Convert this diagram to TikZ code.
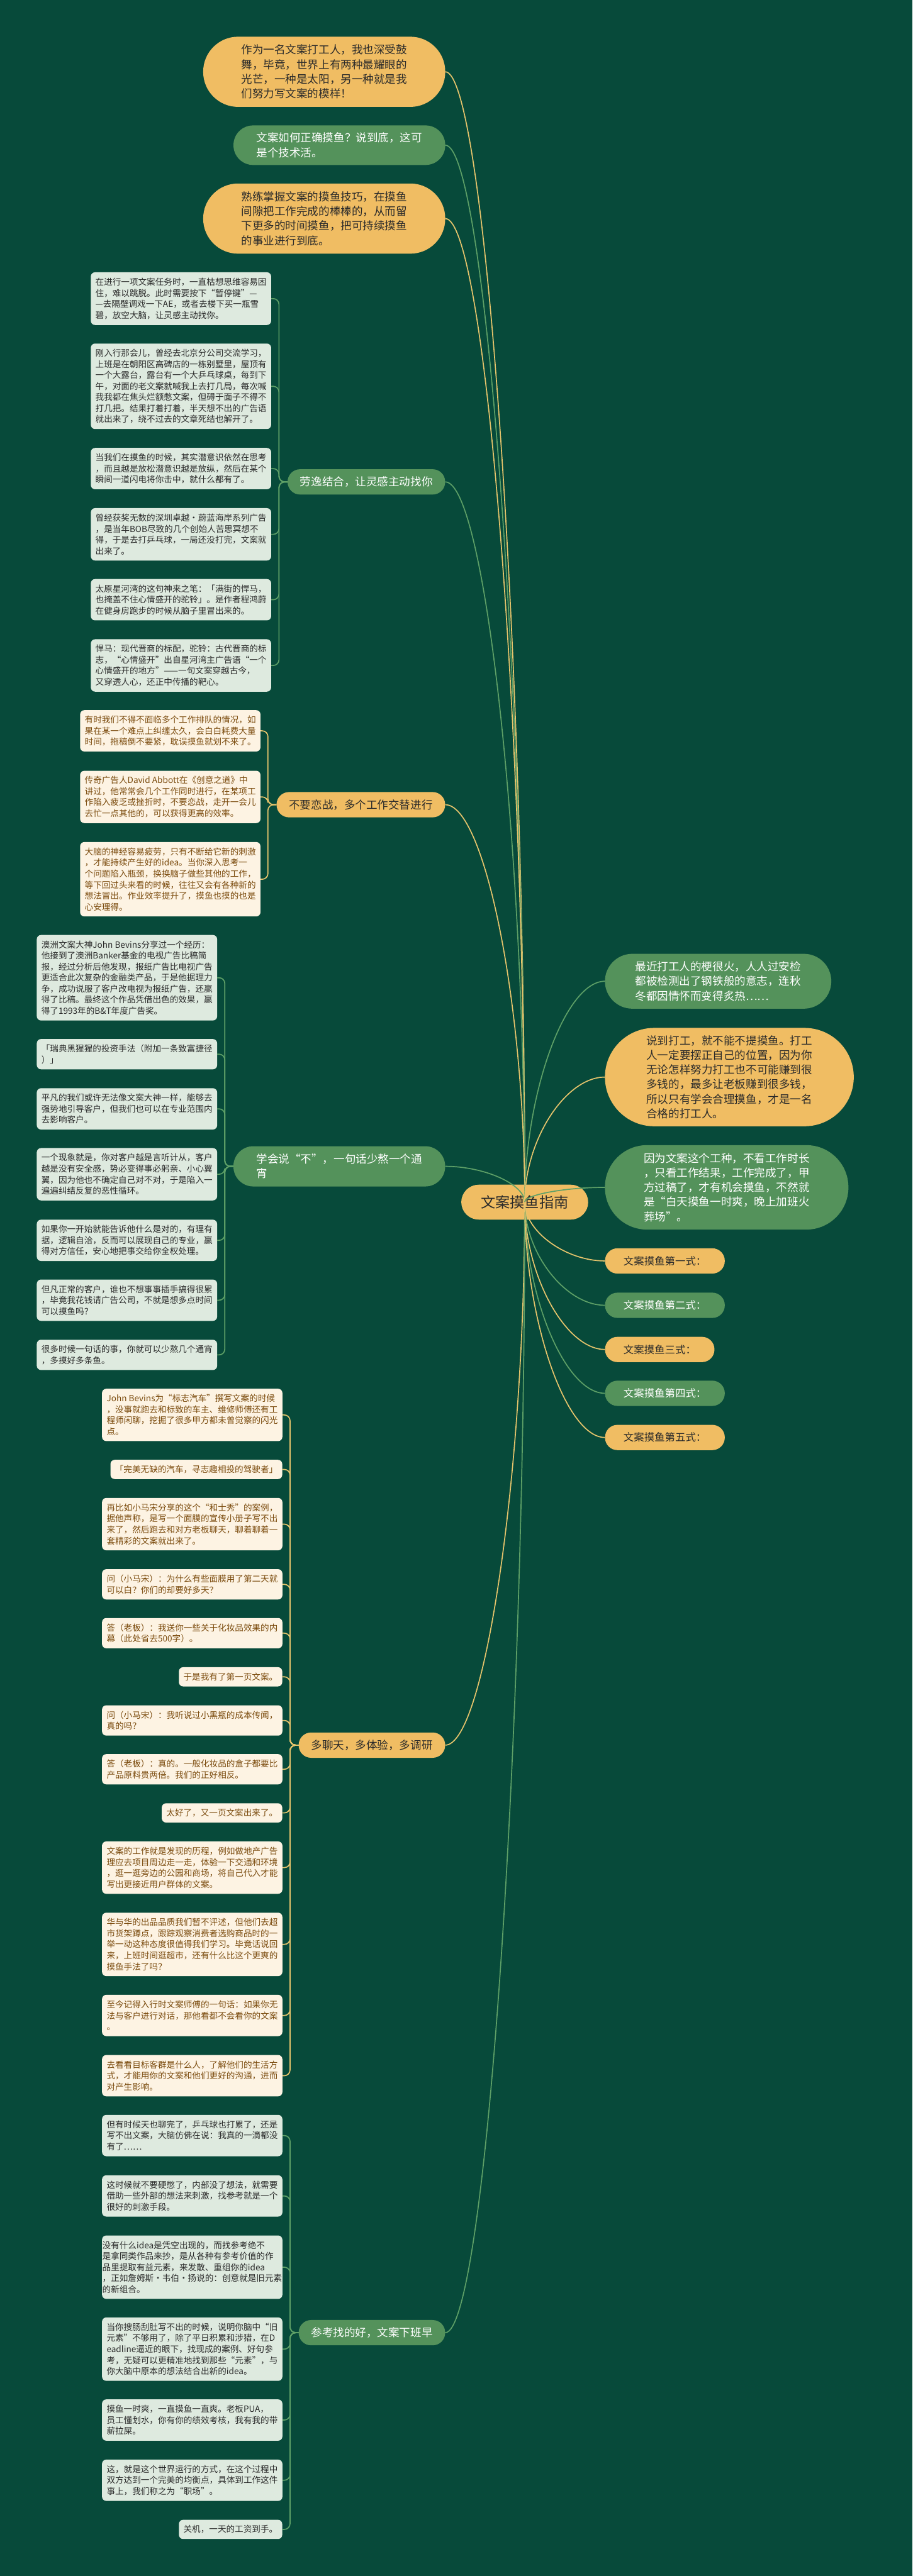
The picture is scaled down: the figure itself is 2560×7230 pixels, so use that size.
\documentclass[tikz,border=0pt]{standalone}
\usepackage{fontspec}
\setmainfont{Noto Sans CJK SC}

\definecolor{bg}{HTML}{074A3A}
\definecolor{mango}{HTML}{F0BD63}
\definecolor{leaf}{HTML}{54925B}
\definecolor{mint}{HTML}{DEEADF}
\definecolor{cream}{HTML}{FDF3E3}
\definecolor{bark}{HTML}{7A4A0C}
\definecolor{ink}{HTML}{2A2A2A}
\definecolor{goldline}{HTML}{E6C46C}
\definecolor{leafline}{HTML}{5EA067}

\begin{document}
\begin{tikzpicture}[x=1pt,y=-1pt,
  pill/.style={rounded corners=#1, inner sep=0pt, align=left},
  opill/.style={pill=#1, fill=mango, text=ink},
  gpill/.style={pill=#1, fill=leaf, text=white},
  bigtxt/.style={font=\fontsize{31}{41}\selectfont},
  twig/.style={font=\fontsize{31}{40}\selectfont, inner xsep=35pt, minimum height=71, anchor=east},
  form/.style={font=\fontsize{29}{36}\selectfont, inner xsep=52pt, minimum height=71, anchor=west},
  leafbox/.style={rounded corners=12, inner sep=0pt, minimum width=506, anchor=north west, align=left, font=\fontsize{24}{31}\selectfont},
  gbox/.style={leafbox, fill=mint, text=ink},
  obox/.style={leafbox, fill=cream, text=bark},
  solo/.style={minimum width=0pt, minimum height=54, inner xsep=13pt, anchor=north east},
  gwire/.style={draw=leafline, line width=3, rounded corners=16},
  owire/.style={draw=goldline, line width=3, rounded corners=16}]

\fill[bg] (0,0) rectangle (2560,7230);
\useasboundingbox (0,0) rectangle (2560,7230);

% top notes
\node[opill=98, bigtxt, minimum width=679, minimum height=197] (n1) at (909.5,201.5) {作为一名文案打工人，我也深受鼓\\舞，毕竟，世界上有两种最耀眼的\\光芒，一种是太阳，另一种就是我\\们努力写文案的模样！};
\node[gpill=55, bigtxt, minimum width=594, minimum height=111] (n2) at (952,407.5) {文案如何正确摸鱼？说到底，这可\\是个技术活。};
\node[opill=98, bigtxt, minimum width=679, minimum height=197] (n3) at (909.5,613.5) {熟练掌握文案的摸鱼技巧，在摸鱼\\间隙把工作完成的棒棒的，从而留\\下更多的时间摸鱼，把可持续摸鱼\\的事业进行到底。};

% branches
\node[gpill=35, twig] (b1) at (1249,1352.5) {劳逸结合，让灵感主动找你};
\node[opill=35, twig] (b2) at (1249,2258.5) {不要恋战，多个工作交替进行};
\node[gpill=56, bigtxt, minimum width=594, minimum height=113, anchor=east] (b3) at (1249,3273.5) {学会说“不”，一句话少熬一个通\\宵};
\node[opill=35, twig] (b4) at (1249,4898) {多聊天，多体验，多调研};
\node[gpill=35, twig] (b5) at (1249,6547) {参考找的好，文案下班早};

\node[opill=49, font=\fontsize{41}{48}\selectfont, minimum width=356, minimum height=98] (root) at (1472,3374) {文案摸鱼指南};

% right side
\node[gpill=77, bigtxt, minimum width=635, minimum height=154] (r1) at (2014.5,2754) {最近打工人的梗很火，人人过安检\\都被检测出了钢铁般的意志，连秋\\冬都因情怀而变得炙热……};
\node[opill=138, bigtxt, minimum width=698, minimum height=276] (r2) at (2046,3023) {说到打工，就不能不提摸鱼。打工\\人一定要摆正自己的位置，因为你\\无论怎样努力打工也不可能赚到很\\多钱的，最多让老板赚到很多钱，\\所以只有学会合理摸鱼，才是一名\\合格的打工人。};
\node[gpill=118, bigtxt, minimum width=683, minimum height=237] (r3) at (2038.5,3332.5) {因为文案这个工种，不看工作时长\\，只看工作结果，工作完成了，甲\\方过稿了，才有机会摸鱼，不然就\\是“白天摸鱼一时爽，晚上加班火\\葬场”。};
\node[opill=35, form] (s1) at (1697,3539) {文案摸鱼第一式：};
\node[gpill=35, form] (s2) at (1697,3663.5) {文案摸鱼第二式：};
\node[opill=35, form] (s3) at (1697,3787.5) {文案摸鱼三式：};
\node[gpill=35, form] (s4) at (1697,3910.5) {文案摸鱼第四式：};
\node[opill=35, form] (s5) at (1697,4034.5) {文案摸鱼第五式：};

% branch 1
\node[gbox, minimum height=148] (a1) at (254.5,764) {在进行一项文案任务时，一直枯想思维容易困\\住，难以跳脱。此时需要按下“暂停键”—\\—去隔壁调戏一下AE，或者去楼下买一瓶雪\\碧，放空大脑，让灵感主动找你。};
\node[gbox, minimum height=240] (a2) at (254.5,964) {刚入行那会儿，曾经去北京分公司交流学习，\\上班是在朝阳区高碑店的一栋别墅里，屋顶有\\一个大露台，露台有一个大乒乓球桌，每到下\\午，对面的老文案就喊我上去打几局，每次喊\\我我都在焦头烂额憋文案，但碍于面子不得不\\打几把。结果打着打着，半天想不出的广告语\\就出来了，绕不过去的文章死结也解开了。};
\node[gbox, minimum height=116] (a3) at (254.5,1257) {当我们在摸鱼的时候，其实潜意识依然在思考\\，而且越是放松潜意识越是放纵，然后在某个\\瞬间一道闪电将你击中，就什么都有了。};
\node[gbox, minimum height=147] (a4) at (254.5,1426) {曾经获奖无数的深圳卓越·蔚蓝海岸系列广告\\，是当年BOB尽致的几个创始人苦思冥想不\\得，于是去打乒乓球，一局还没打完，文案就\\出来了。};
\node[gbox, minimum height=116] (a5) at (254.5,1625) {太原星河湾的这句神来之笔：「满街的悍马，\\也掩盖不住心情盛开的驼铃」。是作者程鸿蔚\\在健身房跑步的时候从脑子里冒出来的。};
\node[gbox, minimum height=147] (a6) at (254.5,1794) {悍马：现代晋商的标配，驼铃：古代晋商的标\\志，“心情盛开”出自星河湾主广告语“一个\\心情盛开的地方”——一句文案穿越古今，\\又穿透人心，还正中传播的靶心。};

% branch 2
\node[obox, minimum height=116] (c1) at (224.5,1993) {有时我们不得不面临多个工作排队的情况，如\\果在某一个难点上纠缠太久，会白白耗费大量\\时间，拖稿倒不要紧，耽误摸鱼就划不来了。};
\node[obox, minimum height=147] (c2) at (224.5,2163) {传奇广告人David Abbott在《创意之道》中\\讲过，他常常会几个工作同时进行，在某项工\\作陷入疲乏或挫折时，不要恋战，走开一会儿\\去忙一点其他的，可以获得更高的效率。};
\node[obox, minimum height=209] (c3) at (224.5,2363) {大脑的神经容易疲劳，只有不断给它新的刺激\\，才能持续产生好的idea。当你深入思考一\\个问题陷入瓶颈，换换脑子做些其他的工作，\\等下回过头来看的时候，往往又会有各种新的\\想法冒出。作业效率提升了，摸鱼也摸的也是\\心安理得。};

% branch 3
\node[gbox, minimum height=240] (d1) at (103,2624) {澳洲文案大神John Bevins分享过一个经历：\\他接到了澳洲Banker基金的电视广告比稿简\\报，经过分析后他发现，报纸广告比电视广告\\更适合此次复杂的金融类产品，于是他据理力\\争，成功说服了客户改电视为报纸广告，还赢\\得了比稿。最终这个作品凭借出色的效果，赢\\得了1993年的B\&T年度广告奖。};
\node[gbox, minimum height=85] (d2) at (103,2916) {「瑞典黑猩猩的投资手法（附加一条致富捷径\\）」};
\node[gbox, minimum height=116] (d3) at (103,3054) {平凡的我们或许无法像文案大神一样，能够去\\强势地引导客户，但我们也可以在专业范围内\\去影响客户。};
\node[gbox, minimum height=147] (d4) at (103,3222) {一个现象就是，你对客户越是言听计从，客户\\越是没有安全感，势必变得事必躬亲、小心翼\\翼，因为他也不确定自己对不对，于是陷入一\\遍遍纠结反复的恶性循环。};
\node[gbox, minimum height=116] (d5) at (103,3423) {如果你一开始就能告诉他什么是对的，有理有\\据，逻辑自洽，反而可以展现自己的专业，赢\\得对方信任，安心地把事交给你全权处理。};
\node[gbox, minimum height=116] (d6) at (103,3591) {但凡正常的客户，谁也不想事事插手搞得很累\\，毕竟我花钱请广告公司，不就是想多点时间\\可以摸鱼吗？};
\node[gbox, minimum height=85] (d7) at (103,3760) {很多时候一句话的事，你就可以少熬几个通宵\\，多摸好多条鱼。};

% branch 4
\node[obox, minimum height=147] (e1) at (286,3897.5) {John Bevins为“标志汽车”撰写文案的时候\\，没事就跑去和标致的车主、维修师傅还有工\\程师闲聊，挖掘了很多甲方都未曾觉察的闪光\\点。};
\node[obox, solo] (e2) at (792,4097) {「完美无缺的汽车，寻志趣相投的驾驶者」};
\node[obox, minimum height=147] (e3) at (286,4204) {再比如小马宋分享的这个“和士秀”的案例，\\据他声称，是写一个面膜的宣传小册子写不出\\来了，然后跑去和对方老板聊天，聊着聊着一\\套精彩的文案就出来了。};
\node[obox, minimum height=85] (e4) at (286,4404) {问（小马宋）：为什么有些面膜用了第二天就\\可以白？你们的却要好多天？};
\node[obox, minimum height=85] (e5) at (286,4541) {答（老板）：我送你一些关于化妆品效果的内\\幕（此处省去500字）。};
\node[obox, solo] (e6) at (792,4679) {于是我有了第一页文案。};
\node[obox, minimum height=85] (e7) at (286,4786) {问（小马宋）：我听说过小黑瓶的成本传闻，\\真的吗？};
\node[obox, minimum height=85] (e8) at (286,4923) {答（老板）：真的。一般化妆品的盒子都要比\\产品原料贵两倍。我们的正好相反。};
\node[obox, solo] (e9) at (792,5061) {太好了，又一页文案出来了。};
\node[obox, minimum height=147] (e10) at (286,5168) {文案的工作就是发现的历程，例如做地产广告\\理应去项目周边走一走，体验一下交通和环境\\，逛一逛旁边的公园和商场，将自己代入才能\\写出更接近用户群体的文案。};
\node[obox, minimum height=178] (e11) at (286,5368) {华与华的出品品质我们暂不评述，但他们去超\\市货架蹲点，跟踪观察消费者选购商品时的一\\举一动这种态度很值得我们学习。毕竟话说回\\来，上班时间逛超市，还有什么比这个更爽的\\摸鱼手法了吗？};
\node[obox, minimum height=116] (e12) at (286,5598.5) {至今记得入行时文案师傅的一句话：如果你无\\法与客户进行对话，那他看都不会看你的文案\\。};
\node[obox, minimum height=116] (e13) at (286,5767.5) {去看看目标客群是什么人，了解他们的生活方\\式，才能用你的文案和他们更好的沟通，进而\\对产生影响。};

% branch 5
\node[gbox, minimum height=116] (f1) at (286,5935.5) {但有时候天也聊完了，乒乓球也打累了，还是\\写不出文案，大脑仿佛在说：我真的一滴都没\\有了……};
\node[gbox, minimum height=116] (f2) at (286,6105) {这时候就不要硬憋了，内部没了想法，就需要\\借助一些外部的想法来刺激，找参考就是一个\\很好的刺激手段。};
\node[gbox, minimum height=178] (f3) at (286,6274) {没有什么idea是凭空出现的，而找参考绝不\\是拿同类作品来抄，是从各种有参考价值的作\\品里提取有益元素，来发散、重组你的idea\\，正如詹姆斯·韦伯·扬说的：创意就是旧元素\\的新组合。};
\node[gbox, minimum height=178] (f4) at (286,6504) {当你搜肠刮肚写不出的时候，说明你脑中“旧\\元素”不够用了，除了平日积累和涉猎，在D\\eadline逼近的眼下，找现成的案例、好句参\\考，无疑可以更精准地找到那些“元素”，与\\你大脑中原本的想法结合出新的idea。};
\node[gbox, minimum height=116] (f5) at (286,6734) {摸鱼一时爽，一直摸鱼一直爽。老板PUA，\\员工懂划水，你有你的绩效考核，我有我的带\\薪拉屎。};
\node[gbox, minimum height=116] (f6) at (286,6903) {这，就是这个世界运行的方式，在这个过程中\\双方达到一个完美的均衡点，具体到工作这件\\事上，我们称之为“职场”。};
\node[gbox, solo] (f7) at (792,7072) {关机，一天的工资到手。};

% wires to leaves
\foreach \i in {1,...,6} \draw[gwire] (b1.west) -- ++(-24,0) |- (a\i.east);
\foreach \i in {1,...,3} \draw[owire] (b2.west) -- ++(-24,0) |- (c\i.east);
\foreach \i in {1,...,7} \draw[gwire] (b3.west) -- ++(-24,0) |- (d\i.east);
\foreach \i in {1,...,13} \draw[owire] (b4.west) -- ++(-24,0) |- (e\i.east);
\foreach \i in {1,...,7} \draw[gwire] (b5.west) -- ++(-24,0) |- (f\i.east);

% wires from the root
\foreach \who/\lift/\wire in {n1/-1586/owire, n2/-1483/gwire, n3/-1380/owire, b1/-1011/gwire, b2/-558/owire, b3/-50/gwire, b4/762/owire, b5/1586/gwire}
  \draw[\wire] (root.center) .. controls +(0,\lift) and +(110,0) .. (\who.east);
\foreach \who/\lift/\wire in {r1/-310/gwire, r2/-175/owire, r3/-21/gwire, s1/82/owire, s2/144/gwire, s3/206/owire, s4/268/gwire, s5/330/owire}
  \draw[\wire] (root.center) .. controls +(0,\lift) and +(-110,0) .. (\who.west);
\end{tikzpicture}
\end{document}
